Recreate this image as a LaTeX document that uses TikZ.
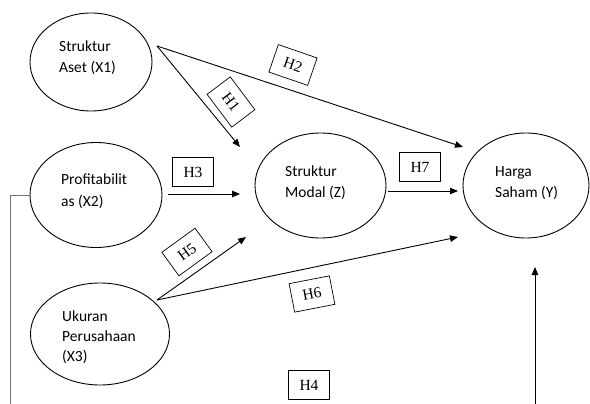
\documentclass[tikz,border=0pt]{standalone}
\usepackage{fontspec}
\setmainfont{Carlito}
\newfontfamily\hfont{Liberation Serif}
\usetikzlibrary{shapes.geometric,arrows.meta}
\begin{document}
\begin{tikzpicture}[x=1pt,y=-1pt,
  ell/.style={draw, ellipse, line width=0.9pt, inner sep=0pt},
  txt/.style={anchor=base west, inner sep=0pt, font=\fontsize{15.5}{19}\selectfont},
  hbox/.style={draw, line width=0.7pt, inner sep=0pt, minimum width=41pt, minimum height=29pt, fill=white, font=\hfont\fontsize{15.5}{19}\selectfont},
  arr/.style={line width=0.9pt, -{Triangle[length=8pt,width=6.5pt]}},
  ln/.style={line width=0.9pt}]
\useasboundingbox (0,0) rectangle (590,404);
% ellipses
\node[ell, minimum width=122pt, minimum height=98pt] (x1) at (91,62) {};
\node[ell, minimum width=132pt, minimum height=105pt] (x2) at (96,195) {};
\node[ell, minimum width=139pt, minimum height=102pt] (x3) at (100,334) {};
\node[ell, minimum width=131pt, minimum height=105pt] (z) at (320.5,185.5) {};
\node[ell, minimum width=126pt, minimum height=105pt] (y) at (526,185.5) {};
% texts
\node[txt] (x1a) at (59,52) {Struktur};
\node[txt] (x1b) at (59,73) {Aset (X1)};
\node[txt] (x2a) at (61,185) {Profitabilit};
\node[txt] (x2b) at (61,206) {as (X2)};
\node[txt] (x3a) at (62,321) {Ukuran};
\node[txt] (x3b) at (62,341) {Perusahaan};
\node[txt] (x3c) at (62,361) {(X3)};
\node[txt] (za) at (285,176) {Struktur};
\node[txt] (zb) at (285,197) {Modal (Z)};
\node[txt] (ya) at (495,176) {Harga};
\node[txt] (yb) at (495,197) {Saham (Y)};
% connector end points
\coordinate (s1) at (157,46);
\coordinate (e1) at (240,147);
\coordinate (e2) at (463,147);
\coordinate (s3) at (168,194);
\coordinate (e3) at (240,194);
\coordinate (s7) at (388,191);
\coordinate (e7) at (458,191);
\coordinate (s5) at (157,300);
\coordinate (e5) at (246,237);
\coordinate (e6) at (458,237);
\coordinate (lb) at (10,404);
\coordinate (rb) at (535,404);
\coordinate (e4) at (535,267);
% connectors
\draw[arr] (s1) -- (e1);
\draw[arr] (s1) -- (e2);
\draw[arr] (s3) -- (e3);
\draw[arr] (s7) -- (e7);
\draw[arr] (s5) -- (e5);
\draw[arr] (s5) -- (e6);
\draw[ln, black!55] (x2.west) -| (lb);
\draw[arr] (rb) -- (e4);
% hypothesis labels
\node[hbox, rotate=-53] (h1) at (231,102) {H1};
\node[hbox, rotate=-19] (h2) at (293,65) {H2};
\node[hbox] (h3) at (193,172) {H3};
\node[hbox] (h4) at (309,385) {H4};
\node[hbox, rotate=36] (h5) at (187,252) {H5};
\node[hbox, rotate=11] (h6) at (312,294) {H6};
\node[hbox] (h7) at (420,167) {H7};
\end{tikzpicture}
\end{document}
